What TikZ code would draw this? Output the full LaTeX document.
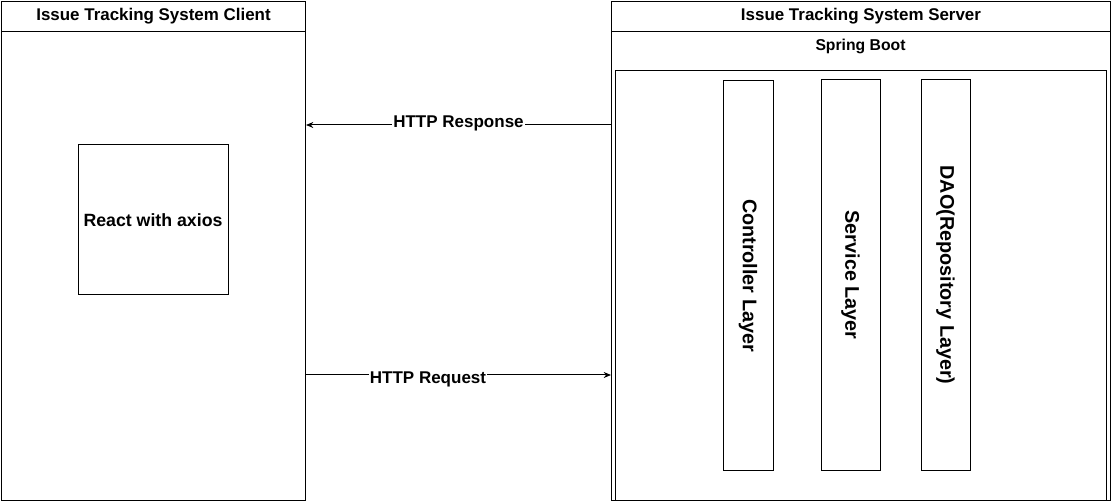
\documentclass[tikz,border=0pt]{standalone}
\usepackage{fontspec}
\setmainfont{Liberation Sans}
\usetikzlibrary{positioning,arrows.meta}

\begin{document}
\begin{tikzpicture}[x=0.75pt, y=-0.75pt, line width=0.75pt,
  frame/.style={draw, rectangle, inner sep=0pt, anchor=north west},
  title/.style={frame, minimum height=22.5pt, font=\bfseries\fontsize{12.7}{15}\selectfont},
  layer/.style={draw, rectangle, inner sep=0pt, rotate=-90, minimum width=292.5pt, font=\bfseries\fontsize{14.85}{17}\selectfont},
  msg/.style={fill=white, inner sep=1pt, font=\bfseries\fontsize{12.75}{15}\selectfont},
  >={Stealth[length=5.5pt, width=4.5pt]}]
  \useasboundingbox (0,0) rectangle (1111,502);

  % Client side
  \node[frame, minimum width=228pt, minimum height=374.25pt] (Client) at (1,1) {};
  \node[title, minimum width=228pt] (ClientTitle) at (1,1) {Issue Tracking System Client};
  \node[draw, rectangle, minimum width=112.5pt, minimum height=112.5pt,
        font=\bfseries\fontsize{13.3}{16}\selectfont] (React) at (153,220) {React with axios};

  % Server side
  \node[frame, minimum width=374.25pt, minimum height=374.25pt] (Server) at (611,1) {};
  \node[title, minimum width=374.25pt] (ServerTitle) at (611,1) {Issue Tracking System Server};
  \node[font=\bfseries\fontsize{11.8}{14}\selectfont] (SpringBoot) at (860.5,46) {Spring Boot};
  \node[frame, minimum width=368.25pt, minimum height=322.5pt] (Boot) at (615,70) {};

  % Layers
  \node[layer, minimum height=37.5pt] (Controller) at (748,275.5) {Controller Layer};
  \node[layer, minimum height=44.25pt] (Service) at (850.5,275) {Service Layer};
  \node[layer, minimum height=36.75pt] (DAO) at (945.5,275) {DAO(Repository Layer)};

  % Messages
  \coordinate (RespY) at (0,125);
  \coordinate (ReqY) at (0,375);
  \draw[->] (Server.west |- RespY) -- node[msg, yshift=1.5pt] {HTTP Response} (Client.east |- RespY);
  \draw[->] (Client.east |- ReqY) -- node[msg, pos=0.4, yshift=-3.5pt] {HTTP Request} (Server.west |- ReqY);
\end{tikzpicture}
\end{document}
